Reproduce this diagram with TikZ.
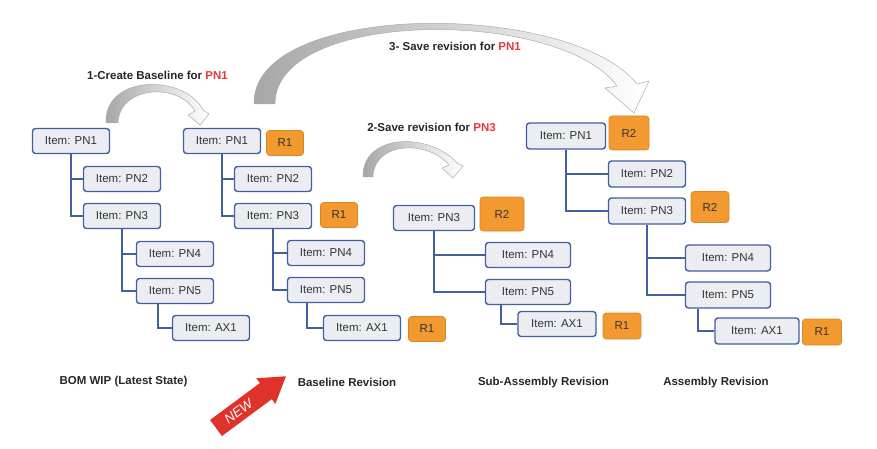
\documentclass[tikz,border=0pt]{standalone}
\usepackage{fontspec}
\setmainfont{Liberation Sans}
\usetikzlibrary{calc}
\definecolor{boxfill}{HTML}{EBEDF2}
\definecolor{boxline}{HTML}{41619C}
\definecolor{revfill}{HTML}{F29A30}
\definecolor{revline}{HTML}{D9862A}
\definecolor{pnred}{HTML}{E8383F}
\definecolor{newred}{HTML}{E0322A}
\definecolor{txt}{HTML}{333333}
\begin{document}
\begin{tikzpicture}[x=1pt,y=-1pt,
  item/.style={draw=boxline, fill=boxfill, line width=1.4pt, rounded corners=3pt,
    minimum width=77pt, minimum height=25pt, inner sep=0pt,
    font=\fontsize{11.5}{13}\selectfont, text=txt},
  rev/.style={draw=revline, fill=revfill, line width=0.6pt, rounded corners=3pt,
    minimum width=37pt, minimum height=25pt, inner sep=0pt,
    font=\fontsize{11.5}{13}\selectfont, text=txt},
  conn/.style={draw=boxline, line width=1.4pt},
  title/.style={font=\bfseries\fontsize{11.5}{13}\selectfont, text=black!85},
  curved/.style={left color=gray!70, right color=white, draw=gray!65, line width=0.5pt}
]
\useasboundingbox (0,0) rectangle (877,449);

% curved arrows
\path[curved] (106,123) .. controls (104,74) and (185,74) .. (203,110)
  -- (209,114) -- (200,125) -- (188,115) -- (195,111)
  .. controls (178,82) and (119,86) .. (118,123) -- cycle;
\path[curved] (363,177) .. controls (362,133) and (430,132) .. (457,163)
  -- (463,166) -- (453,178) -- (442,168) -- (449,165)
  .. controls (428,140) and (374,141) .. (373,177) -- cycle;
\path[curved] (254,104) .. controls (252,0) and (570,0) .. (637,84)
  -- (649,81) -- (634,113) -- (605,88) -- (617,86)
  .. controls (560,8) and (275,8) .. (275,104) -- cycle;

% titles
\node[title] (ti1) at (157.5,75) {1-Create Baseline for \textcolor{pnred}{PN1}};
\node[title] (ti2) at (431.5,127) {2-Save revision for \textcolor{pnred}{PN3}};
\node[title] (ti3) at (455,46) {3- Save revision for \textcolor{pnred}{PN1}};

% tree 1
\node[item] (t1a) at (71,141) {Item: PN1};
\node[item] (t1b) at (122,179) {Item: PN2};
\node[item] (t1c) at (122,216) {Item: PN3};
\node[item] (t1d) at (175,254) {Item: PN4};
\node[item] (t1e) at (175,291) {Item: PN5};
\node[item] (t1f) at (211,328) {Item: AX1};
\draw[conn] (t1a.south) |- (t1b.west);
\draw[conn] (t1a.south) |- (t1c.west);
\draw[conn] (t1c.south) |- (t1d.west);
\draw[conn] (t1c.south) |- (t1e.west);
\draw[conn] ([xshift=-17pt]t1e.south) |- (t1f.west);

% tree 2
\node[item] (t2a) at (222,141) {Item: PN1};
\node[rev] (r2a) at (285,143) {R1};
\node[item] (t2b) at (273,179) {Item: PN2};
\node[item] (t2c) at (273,216) {Item: PN3};
\node[rev] (r2c) at (339,215) {R1};
\node[item] (t2d) at (326,253) {Item: PN4};
\node[item] (t2e) at (326,290) {Item: PN5};
\node[item] (t2f) at (362,328) {Item: AX1};
\node[rev] (r2f) at (427,329) {R1};
\draw[conn] (t2a.south) |- (t2b.west);
\draw[conn] (t2a.south) |- (t2c.west);
\draw[conn] (t2c.south) |- (t2d.west);
\draw[conn] (t2c.south) |- (t2e.west);
\draw[conn] ([xshift=-19pt]t2e.south) |- (t2f.west);

% tree 3
\node[item, minimum width=81pt] (t3c) at (434,218) {Item: PN3};
\node[rev, minimum width=44pt, minimum height=34pt] (r3c) at (502,214) {R2};
\node[item, minimum width=85pt] (t3d) at (528,255) {Item: PN4};
\node[item, minimum width=85pt] (t3e) at (528,292) {Item: PN5};
\node[item, minimum width=78pt] (t3f) at (557,324) {Item: AX1};
\node[rev, minimum width=38pt, minimum height=26pt] (r3f) at (622,326) {R1};
\draw[conn] (t3c.south) |- (t3d.west);
\draw[conn] (t3c.south) |- (t3e.west);
\draw[conn] ([xshift=-27pt]t3e.south) |- (t3f.west);

% tree 4
\node[item, minimum width=79pt, minimum height=26pt] (t4a) at (566,136) {Item: PN1};
\node[rev, minimum width=40pt, minimum height=34pt] (r4a) at (629,133) {R2};
\node[item, minimum height=26pt] (t4b) at (647,174) {Item: PN2};
\node[item, minimum height=26pt] (t4c) at (647,211) {Item: PN3};
\node[rev, minimum width=38pt, minimum height=31pt] (r4c) at (710,207) {R2};
\node[item, minimum width=85pt, minimum height=26pt] (t4d) at (728,258) {Item: PN4};
\node[item, minimum width=85pt, minimum height=26pt] (t4e) at (728,295) {Item: PN5};
\node[item, minimum width=84pt, minimum height=26pt] (t4f) at (757,331) {Item: AX1};
\node[rev, minimum width=39pt, minimum height=26pt] (r4f) at (822,332) {R1};
\draw[conn] (t4a.south) |- (t4b.west);
\draw[conn] (t4a.south) |- (t4c.west);
\draw[conn] (t4c.south) |- (t4d.west);
\draw[conn] (t4c.south) |- (t4e.west);
\draw[conn] ([xshift=-30pt]t4e.south) |- (t4f.west);

% bottom labels
\node[title] (l1) at (123.5,382) {BOM WIP (Latest State)};
\node[title] (l2) at (347,382) {Baseline Revision};
\node[title] (l3) at (543.5,383) {Sub-Assembly Revision};
\node[title] (l4) at (716,383) {Assembly Revision};

% NEW arrow
\begin{scope}[shift={(216,428)}, rotate=36.5]
  \fill[newred] (0,-10) -- (62,-10) -- (62,-16) -- (87,0) -- (62,16) -- (62,10) -- (0,10) -- cycle;
  \node[rotate=36.5, text=white, inner sep=0pt, font=\itshape\fontsize{13.5}{15}\selectfont] (newt) at (28,0) {NEW};
\end{scope}
\end{tikzpicture}
\end{document}
